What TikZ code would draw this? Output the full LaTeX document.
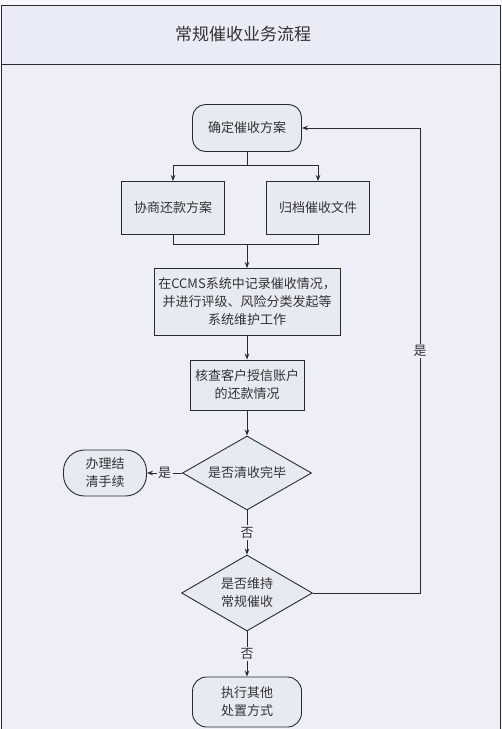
\documentclass[tikz,border=0pt]{standalone}
\usepackage{fontspec}
\setmainfont{Noto Sans CJK SC}
\usetikzlibrary{shapes.geometric,arrows.meta}
\definecolor{bgc}{HTML}{EEEEF8}
\definecolor{hdc}{HTML}{E9ECF6}
\definecolor{nfill}{HTML}{E6EAF2}
\definecolor{lnc}{HTML}{2A2A2A}
\tikzset{
  base/.style={draw=lnc, line width=0.9pt, fill=nfill, font=\fontsize{13}{18}\selectfont, text=black!80, align=center, inner sep=0pt},
  rbox/.style={base, rectangle, rounded corners=13pt, minimum width=109pt, minimum height=47pt},
  sbox/.style={base, rectangle, minimum width=103pt, minimum height=53pt},
  dec/.style={base, diamond, aspect=1.74},
  conn/.style={draw=lnc, line width=0.8pt},
  arr/.style={conn, -{Stealth[length=6pt,width=4.5pt]}},
  lbl/.style={fill=bgc, inner sep=1.5pt, font=\fontsize{13}{15}\selectfont, text=black!80}
}
\begin{document}
\begin{tikzpicture}[x=1pt,y=-1pt]
\useasboundingbox (0,0) rectangle (502,729);
\fill[white!60!bgc] (0,0) rectangle (502,729);
\fill[bgc] (1,64) rectangle (500,729);
\fill[hdc] (1,5) rectangle (500,64);
\draw[conn] (1,729) -- (1,5) -- (500,5) -- (500,729);
\draw[conn] (1,64) -- (500,64);
\node[font=\fontsize{17}{20}\selectfont, text=black!80] (title) at (243,34) {常规催收业务流程};

\node[rbox] (plan) at (247,128) {确定催收方案};
\node[sbox] (nego) at (173,208) {协商还款方案};
\node[sbox] (arch) at (318,208) {归档催收文件};
\node[sbox, minimum width=186pt, minimum height=67pt] (ccms) at (247,302) {在CCMS系统中记录催收情况，\\并进行评级、风险分类发起等\\系统维护工作};
\node[sbox, minimum width=114pt, minimum height=50pt] (check) at (247,385) {核查客户授信账户\\的还款情况};
\node[dec, minimum width=129pt, minimum height=74pt] (d1) at (247,473) {是否清收完毕};
\node[rbox, rounded corners=21pt, minimum width=83pt, minimum height=46pt] (settle) at (105,473) {办理结\\清手续};
\node[dec, minimum width=131pt, minimum height=76pt] (d2) at (247,593) {是否维持\\常规催收};
\node[rbox, rounded corners=14pt, minimum height=50pt] (other) at (247,702) {执行其他\\处置方式};

\coordinate (s1) at (247,165);
\coordinate (m1) at (247,244);
\coordinate (rx) at (420,0);

\draw[conn] (plan.south) -- (s1);
\draw[arr] (s1) -| (nego.north);
\draw[arr] (s1) -| (arch.north);
\draw[conn] (nego.south) |- (m1);
\draw[conn] (arch.south) |- (m1);
\draw[arr] (m1) -- (ccms.north);
\draw[arr] (ccms.south) -- (check.north);
\draw[arr] (check.south) -- (d1.north);
\draw[arr] (d1.west) -- node[lbl]{是} (settle.east);
\draw[arr] (d1.south) -- node[lbl]{否} (d2.north);
\draw[arr] (d2.south) -- node[lbl]{否} (other.north);
\draw[arr] (d2.east) -- (d2.east -| rx) -- node[lbl, pos=0.52]{是} (plan.east -| rx) -- (plan.east);
\end{tikzpicture}
\end{document}
